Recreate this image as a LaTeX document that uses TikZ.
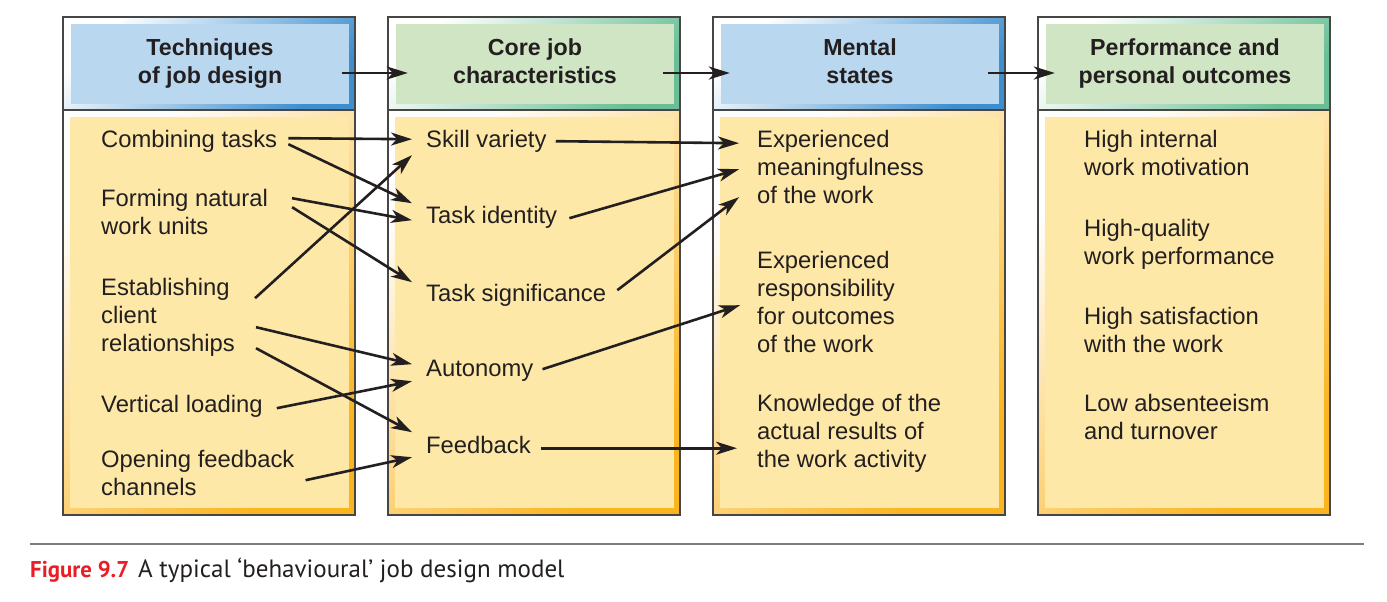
\documentclass[tikz,border=0pt]{standalone}
\usepackage{fontspec}
\setmainfont{Liberation Sans}
\newfontfamily\capfont{PT Sans}
\usetikzlibrary{arrows.meta}
\definecolor{ink}{RGB}{35,31,32}
\definecolor{framegray}{RGB}{70,70,70}
\definecolor{bluefill}{RGB}{186,215,240}
\definecolor{bluedark}{RGB}{62,142,206}
\definecolor{bluemid}{RGB}{160,196,230}
\definecolor{greenfill}{RGB}{207,229,196}
\definecolor{greendark}{RGB}{105,190,150}
\definecolor{greenmid}{RGB}{175,218,190}
\definecolor{bodyfill}{RGB}{253,232,167}
\definecolor{bodymid}{RGB}{252,214,140}
\definecolor{bodydark}{RGB}{250,180,30}
\definecolor{capred}{RGB}{234,28,38}
\definecolor{rulegray}{RGB}{125,125,125}
\tikzset{
  itemtext/.style={inner sep=0pt, anchor=north west, align=left, text=ink,
     font=\fontsize{23.8}{28}\selectfont,
     execute at begin node=\strut, execute at end node=\strut},
  hdrtext/.style={inner sep=0pt, align=center, text=ink, minimum width=278pt, minimum height=80pt,
     font=\fontsize{23.2}{28}\selectfont\bfseries,
     execute at begin node=\strut, execute at end node=\strut},
  hdrblue/.style={hdrtext, fill=bluefill},
  hdrgreen/.style={hdrtext, fill=greenfill},
  arr/.style={draw=ink, line width=2.6pt, -{Stealth[length=21pt,width=13pt,inset=6pt]}},
  frameline/.style={draw=framegray, line width=1.5pt},
  bluerim/.style={top color=white, middle color=bluemid, bottom color=bluedark, shading angle=45},
  greenrim/.style={top color=white, middle color=greenmid, bottom color=greendark, shading angle=45},
  bodyrim/.style={top color=white, middle color=bodymid, bottom color=bodydark, shading angle=45},
}
\begin{document}
\begin{tikzpicture}[x=1pt,y=-1pt]
\useasboundingbox (0,0) rectangle (1387,602);
\fill[white] (0,0) rectangle (1387,602);
% column frames
\foreach \xo/\rim in {63/bluerim,388/greenrim,713/bluerim,1038/greenrim}{
  \shade[\rim] (\xo,17) rectangle ++(292,93);
  \shade[bodyrim] (\xo,110) rectangle ++(292,405);
  \fill[bodyfill] ({\xo+7},117) rectangle ({\xo+286},508);
  \draw[frameline] (\xo,17) rectangle ++(292,498);
  \draw[frameline] (\xo,110) -- ++(292,0);
}
% headers
\node[hdrblue]  (h1) at (210,64)  {\strut Techniques\\of job design};
\node[hdrgreen] (h2) at (535,64)  {\strut Core job\\characteristics};
\node[hdrblue]  (h3) at (860,64)  {\strut Mental\\states};
\node[hdrgreen] (h4) at (1185,64) {\strut Performance and\\personal outcomes};
% column 1
\node[itemtext] (comb)  at (101,127.4) {Combining tasks};
\node[itemtext] (form)  at (101,186.4) {\strut Forming natural\\work units};
\node[itemtext] (estab) at (101,275.4) {\strut Establishing\\client\\relationships};
\node[itemtext] (vert)  at (101,392.4) {Vertical loading};
\node[itemtext] (open)  at (101,447.4) {\strut Opening feedback\\channels};
% column 2
\node[itemtext] (skill)   at (426,127.4) {Skill variety};
\node[itemtext] (taskid)  at (426,203.4) {Task identity};
\node[itemtext] (tasksig) at (426,281.4) {Task significance};
\node[itemtext] (auton)   at (426,356.4) {Autonomy};
\node[itemtext] (feedb)   at (426,433.4) {Feedback};
% column 3
\node[itemtext] (mean) at (757,127.4) {\strut Experienced\\meaningfulness\\of the work};
\node[itemtext] (resp) at (757,248.4) {\strut Experienced\\responsibility\\for outcomes\\of the work};
\node[itemtext] (know) at (757,391.4) {\strut Knowledge of the\\actual results of\\the work activity};
% column 4
\node[itemtext] (motiv)  at (1084,127.4) {\strut High internal\\work motivation};
\node[itemtext] (qual)   at (1084,216.4) {\strut High-quality\\work performance};
\node[itemtext] (satis)  at (1084,304.4) {\strut High satisfaction\\with the work};
\node[itemtext] (absent) at (1084,391.4) {\strut Low absenteeism\\and turnover};
% header arrows
\draw[arr] ([shift={(-7,9)}]h1.east) -- ([shift={(12,9)}]h2.west);
\draw[arr] ([shift={(-11,9)}]h2.east) -- ([shift={(9,9)}]h3.west);
\draw[arr] ([shift={(-11,9)}]h3.east) -- ([shift={(9,9)}]h4.west);
% column 1 -> column 2
\draw[arr] ([shift={(11,-3.4)}]comb.east) -- ([shift={(-14,-2.4)}]skill.west);
\draw[arr] ([shift={(11,2.6)}]comb.east) -- ([shift={(-14,-14.4)}]taskid.west);
\draw[arr] ([shift={(24,-16.4)}]form.east) -- ([shift={(-14,2.6)}]taskid.west);
\draw[arr] ([shift={(24,-7.4)}]form.east) -- ([shift={(-14,-13.4)}]tasksig.west);
\draw[arr] ([shift={(20,-19.4)}]estab.east) -- ([shift={(-14,13.6)}]skill.west);
\draw[arr] ([shift={(21,9.6)}]estab.east) -- ([shift={(-14,-6.4)}]auton.west);
\draw[arr] ([shift={(21,30.6)}]estab.east) -- ([shift={(-14,-15.4)}]feedb.west);
\draw[arr] ([shift={(14,1.6)}]vert.east) -- ([shift={(-14,10.6)}]auton.west);
\draw[arr] ([shift={(11,4.6)}]open.east) -- ([shift={(-14,9.6)}]feedb.west);
% column 2 -> column 3
\draw[arr] ([shift={(9,-0.4)}]skill.east) -- ([shift={(-18,-26.4)}]mean.west);
\draw[arr] ([shift={(12,0.6)}]taskid.east) -- ([shift={(-18,-0.4)}]mean.west);
\draw[arr] ([shift={(11,-5.4)}]tasksig.east) -- ([shift={(-18,27.6)}]mean.west);
\draw[arr] ([shift={(9,-1.4)}]auton.east) -- ([shift={(-17,0.6)}]resp.west);
\draw[arr] ([shift={(10,0.6)}]feedb.east) -- ([shift={(-20,14.6)}]know.west);
% caption
\draw[rulegray, line width=1.5pt] (30,544) -- (1364,544);
\node[anchor=base west, inner sep=0pt, font=\capfont] (cap) at (30,577)
  {\textcolor{capred}{\fontsize{22.8}{26}\selectfont\bfseries Figure 9.7}\hspace{9pt}\textcolor{ink}{\fontsize{25}{28}\selectfont A typical ‘behavioural’ job design model}};
\end{tikzpicture}
\end{document}
